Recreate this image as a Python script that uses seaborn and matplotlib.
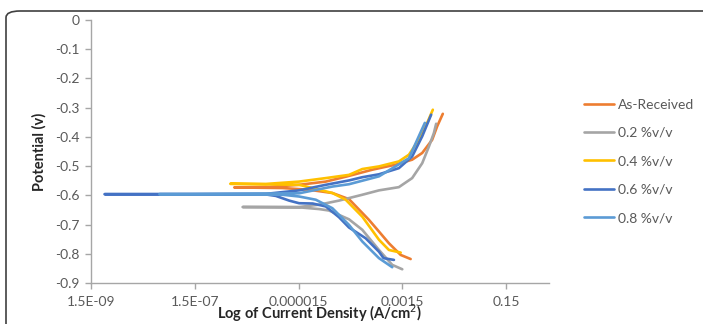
import matplotlib
matplotlib.use("Agg")
import matplotlib.pyplot as plt
import seaborn as sns
import pandas as pd
from matplotlib.patches import FancyBboxPatch
from matplotlib.ticker import FixedLocator, NullLocator

# ---- data: each curve runs from cathodic end -> tip at Ecorr -> anodic end ----
series_names = ["As-Received", "0.2 %v/v", "0.4 %v/v", "0.6 %v/v", "0.8 %v/v"]

asrec_i = [2.16e-3, 1.39e-3, 8.24e-4, 5.30e-4, 3.40e-4, 1.40e-4, 6.70e-5, 2.39e-5, 7.31e-6, 8.63e-7,
           3.51e-6, 1.53e-5, 5.00e-5, 1.30e-4, 4.0e-4, 1.11e-3, 2.31e-3, 3.61e-3, 5.61e-3, 7.0e-3, 9.0e-3]
asrec_e = [-0.818, -0.804, -0.764, -0.724, -0.684, -0.613, -0.592, -0.581, -0.575, -0.573,
           -0.572, -0.564, -0.553, -0.535, -0.512, -0.495, -0.478, -0.455, -0.410, -0.364, -0.321]

p02_i = [1.49e-3, 9.55e-4, 5.30e-4, 2.53e-4, 1.40e-4, 9.01e-5, 5.79e-5, 3.72e-5, 1.53e-5, 1.25e-6,
         1.53e-5, 3.72e-5, 9.01e-5, 2.53e-4, 5.30e-4, 1.28e-3, 2.31e-3, 3.61e-3, 4.86e-3, 6.05e-3, 6.70e-3]
p02_e = [-0.853, -0.838, -0.787, -0.718, -0.682, -0.667, -0.652, -0.647, -0.641, -0.640,
         -0.640, -0.632, -0.618, -0.598, -0.583, -0.572, -0.541, -0.490, -0.433, -0.387, -0.355]

p04_i = [1.39e-3, 8.24e-4, 5.30e-4, 2.53e-4, 1.21e-4, 6.70e-5, 2.76e-5, 1.53e-5, 7.23e-7,
         3.51e-6, 1.53e-5, 5.00e-5, 1.40e-4, 2.53e-4, 5.30e-4, 1.28e-3, 2.0e-3, 3.11e-3, 4.50e-3, 5.78e-3]
p04_e = [-0.796, -0.787, -0.752, -0.673, -0.615, -0.592, -0.575, -0.564, -0.5605,
         -0.561, -0.553, -0.541, -0.530, -0.510, -0.501, -0.484, -0.461, -0.410, -0.352, -0.307]

p06_i = [1.03e-3, 6.5e-4, 5.30e-4, 2.94e-4, 1.40e-4, 9.01e-5, 5.00e-5, 2.8e-5, 1.53e-5, 9.84e-6, 5.47e-6, 3.51e-6, 2.73e-9,
         3.51e-6, 1.53e-5, 5.00e-5, 1.40e-4, 2.53e-4, 5.30e-4, 1.28e-3, 2.31e-3, 3.61e-3, 5.37e-3]
p06_e = [-0.821, -0.815, -0.793, -0.747, -0.710, -0.675, -0.638, -0.628, -0.627, -0.618, -0.602, -0.597, -0.596,
         -0.595, -0.583, -0.564, -0.549, -0.538, -0.528, -0.507, -0.467, -0.398, -0.324]

p08_i = [9.55e-4, 5.30e-4, 2.53e-4, 1.40e-4, 6.70e-5, 3.21e-5, 1.53e-5, 7.31e-6, 3.11e-8,
         1.53e-5, 6.70e-5, 1.40e-4, 5.30e-4, 2.0e-3, 2.89e-3, 4.06e-3]
p08_e = [-0.846, -0.815, -0.758, -0.701, -0.644, -0.615, -0.604, -0.598, -0.596,
         -0.593, -0.570, -0.562, -0.535, -0.473, -0.410, -0.352]

x_ticks = [1.5e-9, 1.5e-7, 1.5e-5, 1.5e-3, 0.15]
x_tick_labels = ["1.5E-09", "1.5E-07", "0.000015", "0.0015", "0.15"]
y_ticks = [0, -0.1, -0.2, -0.3, -0.4, -0.5, -0.6, -0.7, -0.8, -0.9]
y_tick_labels = ["0", "-0.1", "-0.2", "-0.3", "-0.4", "-0.5", "-0.6", "-0.7", "-0.8", "-0.9"]

colors = ["#ED7D31", "#A5A5A5", "#FFC000", "#4472C4", "#5B9BD5"]

rows = []
for name, xi, ei in zip(series_names,
                        [asrec_i, p02_i, p04_i, p06_i, p08_i],
                        [asrec_e, p02_e, p04_e, p06_e, p08_e]):
    for k, (a, b) in enumerate(zip(xi, ei)):
        rows.append({"series": name, "order": k, "I": a, "E": b})
df = pd.DataFrame(rows)

sns.set_theme(style="white")
plt.rcParams["font.family"] = ["Lato", "DejaVu Sans"]

fig = plt.figure(figsize=(7.03, 3.24), dpi=100)
ax = fig.add_axes([91 / 703, 1 - 283 / 324, (549 - 91) / 703, (283 - 20) / 324])

sns.lineplot(data=df, x="I", y="E", hue="series", hue_order=series_names,
             palette=colors, sort=False, estimator=None, units="series",
             linewidth=1.9, ax=ax, legend=True)

ax.set_xscale("log")
ax.set_xlim(1.5e-9, 1.0)
ax.set_ylim(-0.9, 0)
ax.xaxis.set_major_locator(FixedLocator(x_ticks))
ax.xaxis.set_minor_locator(NullLocator())
ax.set_xticklabels(x_tick_labels)
ax.set_yticks(y_ticks)
ax.set_yticklabels(y_tick_labels)

for s in ["top", "right"]:
    ax.spines[s].set_visible(False)
for s in ["left", "bottom"]:
    ax.spines[s].set_color("#A6A6A6")
    ax.spines[s].set_linewidth(1.0)
ax.tick_params(axis="both", which="major", direction="out", length=4, width=1,
               color="#A6A6A6", labelsize=10, labelcolor="#595959", left=True, bottom=True)
ax.tick_params(axis="y", pad=4)
ax.tick_params(axis="x", pad=5)

ax.set_xlabel("Log of Current Density (A/cm$^2$)", fontsize=10.5, fontweight="bold",
              color="#262626", labelpad=-4)
ax.set_ylabel("Potential (v)", fontsize=10.5, fontweight="bold", color="#262626", labelpad=6)

handles, labels = ax.get_legend_handles_labels()
leg = ax.legend(handles, labels, loc="upper left", bbox_to_anchor=(578 / 703, 1 - 93 / 324),
                bbox_transform=fig.transFigure, frameon=False, fontsize=10,
                handlelength=2.2, handletextpad=0.25, labelspacing=1.18, borderaxespad=0)
for t in leg.get_texts():
    t.set_color("#595959")

border = FancyBboxPatch((6 / 703, -0.2), 1.2, 1 - 11 / 324 + 0.2,
                        boxstyle="round,pad=0,rounding_size=0.02",
                        transform=fig.transFigure, fill=False, edgecolor="#404040",
                        linewidth=1.2, clip_on=False)
fig.patches.append(border)

fig.savefig("out.png", dpi=100)
